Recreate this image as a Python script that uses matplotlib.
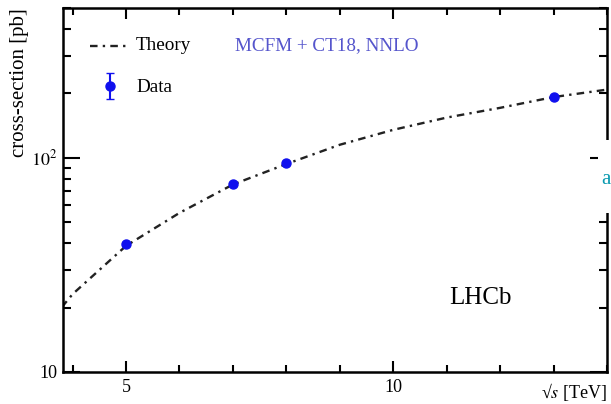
import matplotlib
matplotlib.use("Agg")
import matplotlib.pyplot as plt
from matplotlib.ticker import MultipleLocator, LogLocator, NullFormatter, FixedLocator, FixedFormatter
from matplotlib.patches import Rectangle
from matplotlib.lines import Line2D

plt.rcParams['font.family'] = ['Liberation Serif', 'DejaVu Serif']
plt.rcParams['mathtext.fontset'] = 'stix'

# Theory curve (MCFM + CT18, NNLO)
theory_sqrts = [3.8, 4, 5, 6, 7, 8, 9, 10, 11, 12, 13, 14]
theory_xsec = [20.1, 23.1, 38.8, 55.3, 75.0, 93.5, 115, 135, 154, 171, 192, 208]

# Data
data_sqrts = [5, 7, 8, 13]
data_xsec = [39.6, 75.7, 94.8, 193]
data_err = [1.5, 2.5, 3.0, 6.0]

W, H = 611, 404
fig = plt.figure(figsize=(W/100, H/100), dpi=100)
ax = fig.add_axes([63/W, 1-372/H, (607-63)/W, (372-8)/H])

DASH = (0, (3.2, 2.2, 1.0, 2.2))
ax.plot(theory_sqrts, theory_xsec, color='#222222', ls=DASH, lw=1.7, zorder=2)
ax.errorbar(data_sqrts, data_xsec, yerr=data_err, fmt='o', color='#1010ee', ms=6.5,
            elinewidth=1.5, capsize=0, zorder=3)

ax.set_yscale('log')
ax.set_xlim(3.82, 14.0)
ax.set_ylim(10, 500)

ax.xaxis.set_major_locator(MultipleLocator(5))
ax.xaxis.set_minor_locator(MultipleLocator(1))
ax.yaxis.set_major_locator(FixedLocator([10, 100]))
ax.yaxis.set_major_formatter(FixedFormatter(['10', r'$10^2$']))
ax.yaxis.set_minor_locator(LogLocator(base=10, subs=range(2, 10)))
ax.yaxis.set_minor_formatter(NullFormatter())

for s in ax.spines.values():
    s.set_linewidth(1.8)
ax.tick_params(which='both', direction='in', top=True, right=True, width=1.5, labelsize=13, colors='black')
ax.tick_params(axis='x', which='major', length=8, pad=5)
ax.tick_params(axis='x', which='minor', length=5)
ax.tick_params(axis='y', which='major', length=12, pad=4)
ax.tick_params(axis='y', which='minor', length=6)

fig.text(20/W, 1-8/H, 'cross-section [pb]', rotation=90, ha='center', va='top', fontsize=15)
fig.text(607/W, 1-392/H, '√$s$ [TeV]', ha='right', va='center', fontsize=13)

# Legend (manual)
fig.lines.append(Line2D([90/W, 130/W], [1-46/H, 1-46/H], transform=fig.transFigure,
                        color='#222222', lw=1.7, ls=DASH))
fig.text(136/W, 1-46/H, 'Theory', ha='left', va='center', fontsize=13.8)
ax.errorbar([110/W], [1-86/H], yerr=[[13/H], [13/H]], fmt='o', color='#1010ee', ms=6.5,
            elinewidth=1.5, capsize=3, transform=fig.transFigure, clip_on=False)
fig.text(136/W, 1-87/H, 'Data', ha='left', va='center', fontsize=13.8)
fig.text(235/W, 1-46/H, 'MCFM + CT18, NNLO', ha='left', va='center', fontsize=13.8, color='#5555cc')
fig.text(449/W, 1-298/H, 'LHCb', ha='left', va='center', fontsize=18)

# overlay artifact at right edge
fig.patches.append(Rectangle((598/W, 1-213/H), 13/W, 73/H, transform=fig.transFigure,
                             facecolor='white', edgecolor='none', zorder=10))
fig.text(601/W, 1-180/H, 'a', ha='left', va='center', fontsize=15, color='#0a9ab0', zorder=11)

fig.savefig('out.png', dpi=100)
